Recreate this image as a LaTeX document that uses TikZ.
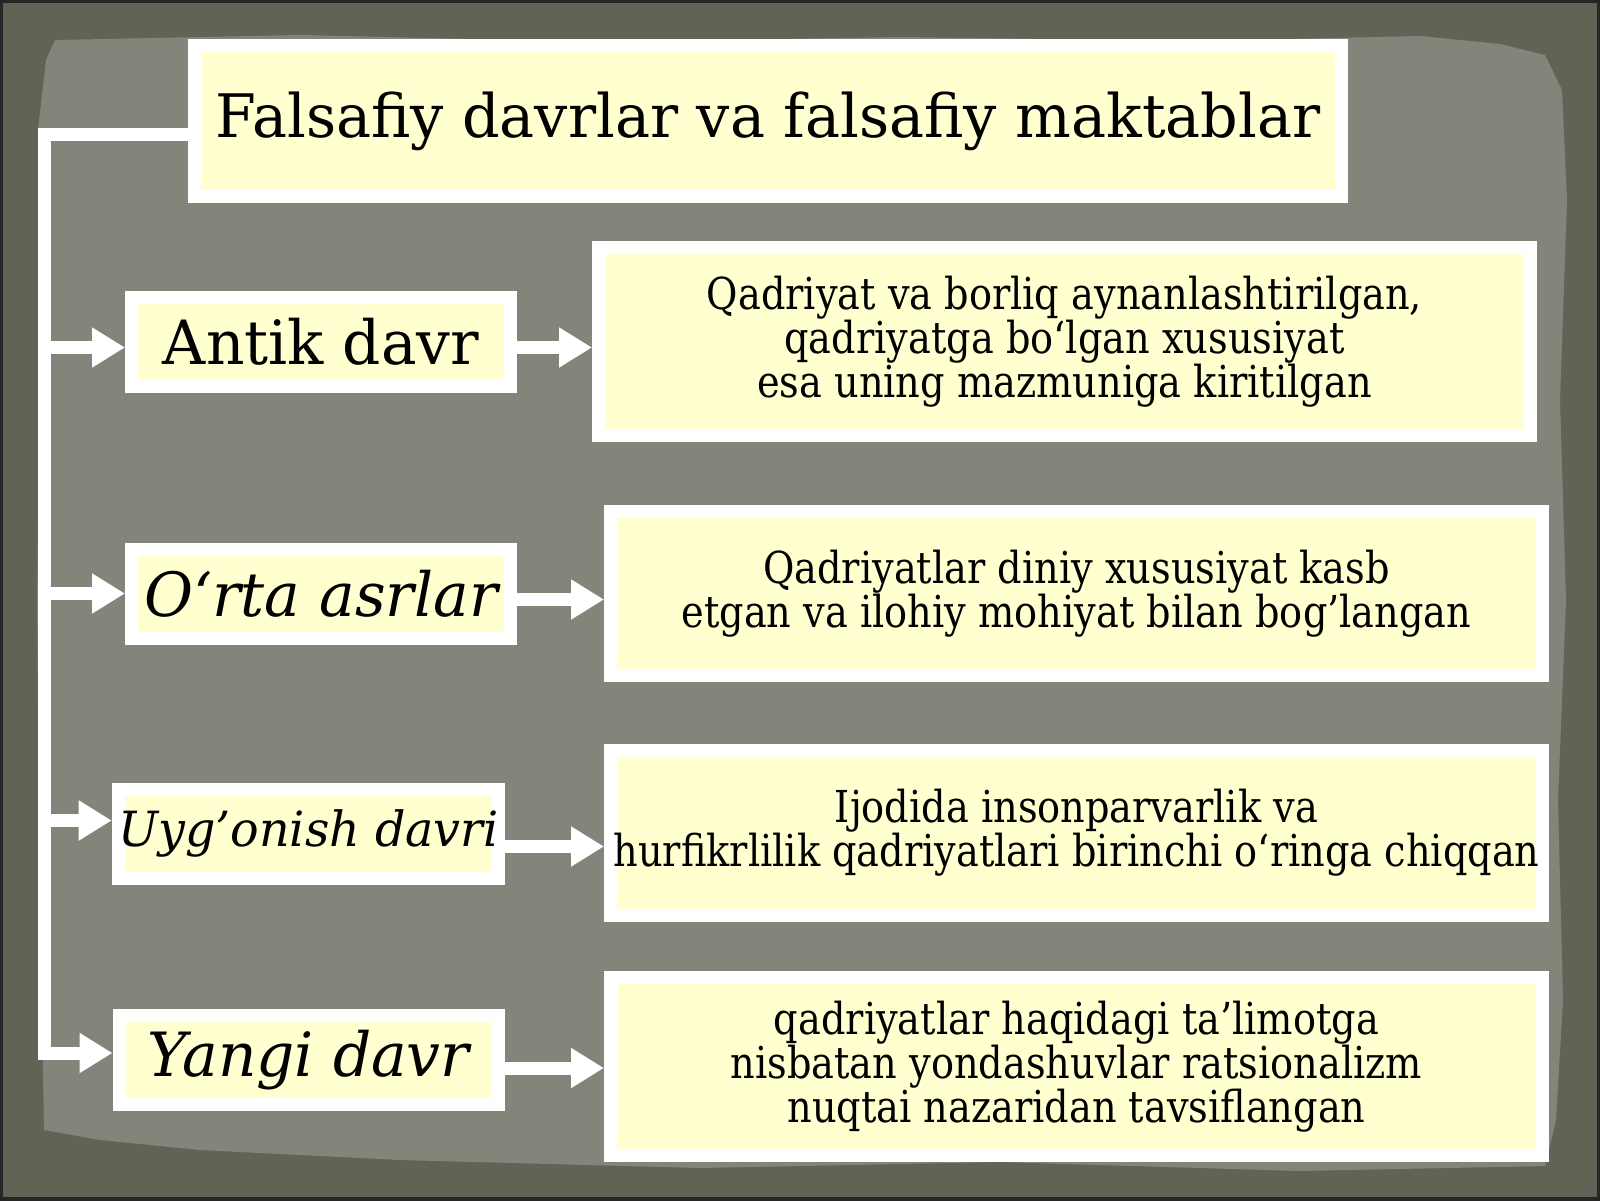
\documentclass[tikz,border=0pt]{standalone}
\usepackage{fontspec}
\setmainfont{DejaVu Serif}
\newfontfamily\titlefont{DejaVu Serif}[FakeStretch=0.98]
\newfontfamily\descfont{DejaVu Serif}[FakeStretch=0.87]
\usetikzlibrary{arrows.meta}
\definecolor{cframe}{RGB}{96,100,85}
\definecolor{cpaper}{RGB}{130,133,122}
\definecolor{cyellow}{RGB}{255,255,207}

\begin{document}
\begin{tikzpicture}[x=1pt, y=-1pt,
		box/.style={fill=cyellow, draw=white, line width=13pt, inner sep=0pt},
		period/.style={box, minimum width=379pt, minimum height=89pt, font=\titlefont\fontsize{61}{70}\selectfont},
		note/.style={box, minimum width=932pt, align=center, font=\descfont\fontsize{44}{43}\selectfont},
		flow/.style={draw=white, line width=13pt, -{Triangle[length=33pt, width=38pt]}}]
		\useasboundingbox (0,0) rectangle (1600,1200);
		
		% Background
		\fill[cframe] (0,0) rectangle (1600,1200);
		\fill[cpaper] (55,40) -- (300,35) -- (600,42) -- (900,37) -- (1200,41) -- (1420,36) -- (1500,44) -- (1545,55)
			-- (1562,90) -- (1567,200) -- (1560,400) -- (1566,600) -- (1558,800) -- (1563,1000) -- (1556,1120) -- (1545,1166)
			-- (1300,1171) -- (1000,1162) -- (700,1168) -- (400,1160) -- (200,1150) -- (100,1140) -- (44,1130)
			-- (40,900) -- (37,600) -- (41,300) -- (38,130) -- (46,60) -- cycle;
		\draw[black!85, line width=6pt] (0,0) rectangle (1600,1200);
		
		% Title
		\node[box, minimum width=1147pt, minimum height=151pt, font=\titlefont\fontsize{60}{72}\selectfont] (title) at (768,121)
			{Falsafiy davrlar va falsafiy maktablar};
		
		% Periods
		\node[period] (antik) at (321,341.5) {Antik davr};
		\node[period] (orta) at (321,593.5) {\itshape O‘rta asrlar};
		\node[period, font=\titlefont\fontsize{48.5}{56}\selectfont] (uygonish) at (308.5,833.5) {\itshape Uyg’onish davri};
		\node[period] (yangi) at (308.5,1060) {\itshape Yangi davr};
		
		% Notes
		\node[note, minimum height=188pt] (dantik) at (1064.5,341.5)
			{Qadriyat va borliq aynanlashtirilgan,\\qadriyatga bo‘lgan xususiyat\\esa uning mazmuniga kiritilgan};
		\node[note, minimum height=164pt] (dorta) at (1076.5,593.5)
			{Qadriyatlar diniy xususiyat kasb\\etgan va ilohiy mohiyat bilan bog’langan};
		\node[note, minimum height=165pt] (duygonish) at (1076.5,833)
			{Ijodida insonparvarlik va\\hurfikrlilik qadriyatlari birinchi o‘ringa chiqqan};
		\node[note, minimum height=178pt] (dyangi) at (1076.5,1066.5)
			{qadriyatlar haqidagi ta’limotga\\nisbatan yondashuvlar ratsionalizm\\nuqtai nazaridan tavsiflangan};
		
		% Bracket
		\coordinate (brk) at ([xshift=-144pt, yshift=-13pt]title.west);
		\draw[flow] ([yshift=-13pt]title.west) -- (brk) |- ([yshift=7pt]yangi.west);
		
		\coordinate (ta) at ([yshift=-6pt]antik.west);
		\coordinate (to) at (orta.west);
		\coordinate (tu) at ([yshift=13pt]uygonish.west);
		\draw[flow] (ta -| brk) -- (ta);
		\draw[flow] (to -| brk) -- (to);
		\draw[flow] (tu -| brk) -- (tu);
		
		% Arrows
		\coordinate (ra) at ([yshift=-6pt]antik.east);
		\coordinate (ro) at ([yshift=-6pt]orta.east);
		\coordinate (ru) at ([yshift=-13pt]uygonish.east);
		\coordinate (ry) at ([yshift=-8pt]yangi.east);
		\draw[flow] (ra) -- (ra -| dantik.west);
		\draw[flow] (ro) -- (ro -| dorta.west);
		\draw[flow] (ru) -- (ru -| duygonish.west);
		\draw[flow] (ry) -- (ry -| dyangi.west);
		
	\end{tikzpicture}
\end{document}
